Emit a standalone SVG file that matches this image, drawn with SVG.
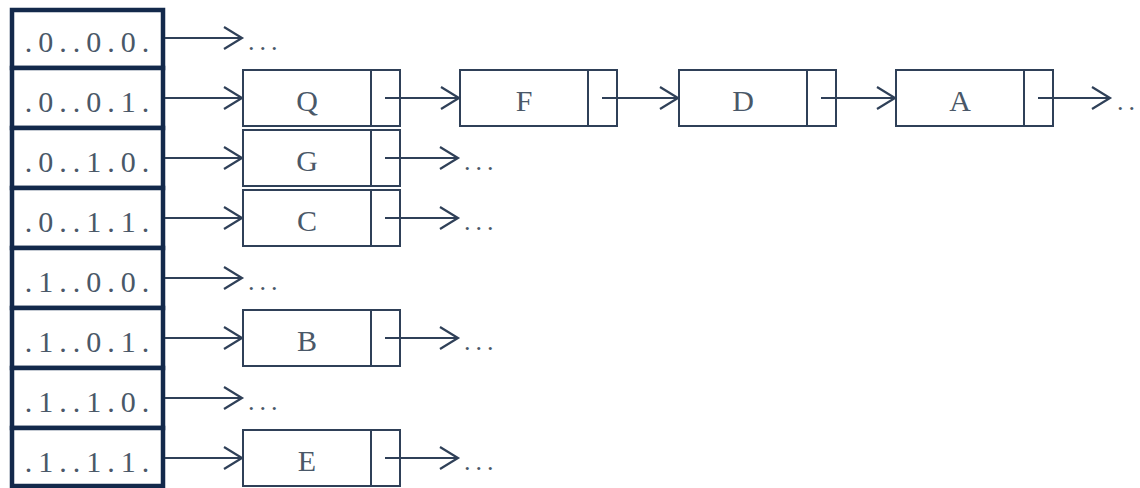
<svg xmlns="http://www.w3.org/2000/svg" width="1140" height="488" viewBox="0 0 1140 488">
<defs>
<marker id="ah" markerUnits="userSpaceOnUse" markerWidth="24" markerHeight="26" refX="20" refY="12" orient="auto">
<polyline points="2,1 20,12 2,23" fill="none" stroke="#2f4058" stroke-width="2.2"/>
</marker>
<style>
.cell{fill:#fff;stroke:#13294b;stroke-width:4.5}
.lbl{font-family:"Liberation Serif",serif;font-size:30px;fill:#4a5868;text-anchor:middle;letter-spacing:6px}
.box{fill:#fff;stroke:#2f4058;stroke-width:2}
.nt{font-family:"Liberation Serif",serif;font-size:30px;fill:#4a5868;text-anchor:middle}
.dots{font-family:"Liberation Serif",serif;font-size:26px;fill:#4a5868;letter-spacing:5px}
.con{stroke:#2f4058;stroke-width:2.2;fill:none;marker-end:url(#ah)}
</style>
</defs>
<rect width="1140" height="488" fill="#fff"/>
<g id="bucket-table">
<g id="b000"><rect class="cell" x="12" y="10" width="151" height="58"/><text class="lbl" x="90" y="52">.0..0.0.</text></g>
<g id="b001"><rect class="cell" x="12" y="68" width="151" height="60"/><text class="lbl" x="90" y="112">.0..0.1.</text></g>
<g id="b010"><rect class="cell" x="12" y="128" width="151" height="60"/><text class="lbl" x="90" y="172">.0..1.0.</text></g>
<g id="b011"><rect class="cell" x="12" y="188" width="151" height="60"/><text class="lbl" x="90" y="232">.0..1.1.</text></g>
<g id="b100"><rect class="cell" x="12" y="248" width="151" height="60"/><text class="lbl" x="90" y="292">.1..0.0.</text></g>
<g id="b101"><rect class="cell" x="12" y="308" width="151" height="60"/><text class="lbl" x="90" y="352">.1..0.1.</text></g>
<g id="b110"><rect class="cell" x="12" y="368" width="151" height="60"/><text class="lbl" x="90" y="412">.1..1.0.</text></g>
<g id="b111"><rect class="cell" x="12" y="428" width="151" height="58"/><text class="lbl" x="90" y="472">.1..1.1.</text></g>
</g>
<g id="node-Q"><rect class="box" x="243" y="70" width="157" height="56"/><line class="box" x1="371" y1="70" x2="371" y2="126"/><text class="nt" x="307" y="111">Q</text></g>
<g id="node-F"><rect class="box" x="460" y="70" width="157" height="56"/><line class="box" x1="588" y1="70" x2="588" y2="126"/><text class="nt" x="524" y="111">F</text></g>
<g id="node-D"><rect class="box" x="679" y="70" width="157" height="56"/><line class="box" x1="807" y1="70" x2="807" y2="126"/><text class="nt" x="743" y="111">D</text></g>
<g id="node-A"><rect class="box" x="896" y="70" width="157" height="56"/><line class="box" x1="1024" y1="70" x2="1024" y2="126"/><text class="nt" x="960" y="111">A</text></g>
<g id="node-G"><rect class="box" x="243" y="130" width="157" height="56"/><line class="box" x1="371" y1="130" x2="371" y2="186"/><text class="nt" x="307" y="171">G</text></g>
<g id="node-C"><rect class="box" x="243" y="190" width="157" height="56"/><line class="box" x1="371" y1="190" x2="371" y2="246"/><text class="nt" x="307" y="231">C</text></g>
<g id="node-B"><rect class="box" x="243" y="310" width="157" height="56"/><line class="box" x1="371" y1="310" x2="371" y2="366"/><text class="nt" x="307" y="351">B</text></g>
<g id="node-E"><rect class="box" x="243" y="430" width="157" height="56"/><line class="box" x1="371" y1="430" x2="371" y2="486"/><text class="nt" x="307" y="471">E</text></g>
<g id="connectors">
<line class="con" x1="165" y1="38" x2="242" y2="38"/>
<line class="con" x1="165" y1="98" x2="242" y2="98"/>
<line class="con" x1="165" y1="158" x2="242" y2="158"/>
<line class="con" x1="165" y1="218" x2="242" y2="218"/>
<line class="con" x1="165" y1="278" x2="242" y2="278"/>
<line class="con" x1="165" y1="338" x2="242" y2="338"/>
<line class="con" x1="165" y1="398" x2="242" y2="398"/>
<line class="con" x1="165" y1="458" x2="242" y2="458"/>
<line class="con" x1="385" y1="98" x2="459" y2="98"/>
<line class="con" x1="602" y1="98" x2="678" y2="98"/>
<line class="con" x1="821" y1="98" x2="895" y2="98"/>
<line class="con" x1="1038" y1="98" x2="1110" y2="98"/>
<line class="con" x1="385" y1="158" x2="458" y2="158"/>
<line class="con" x1="385" y1="218" x2="458" y2="218"/>
<line class="con" x1="385" y1="338" x2="458" y2="338"/>
<line class="con" x1="385" y1="458" x2="458" y2="458"/>
</g>
<g id="ellipses">
<text class="dots" x="248" y="50">...</text>
<text class="dots" x="248" y="290">...</text>
<text class="dots" x="248" y="410">...</text>
<text class="dots" x="464" y="170">...</text>
<text class="dots" x="464" y="230">...</text>
<text class="dots" x="464" y="350">...</text>
<text class="dots" x="464" y="470">...</text>
<text class="dots" x="1117" y="110">...</text>
</g>
</svg>
